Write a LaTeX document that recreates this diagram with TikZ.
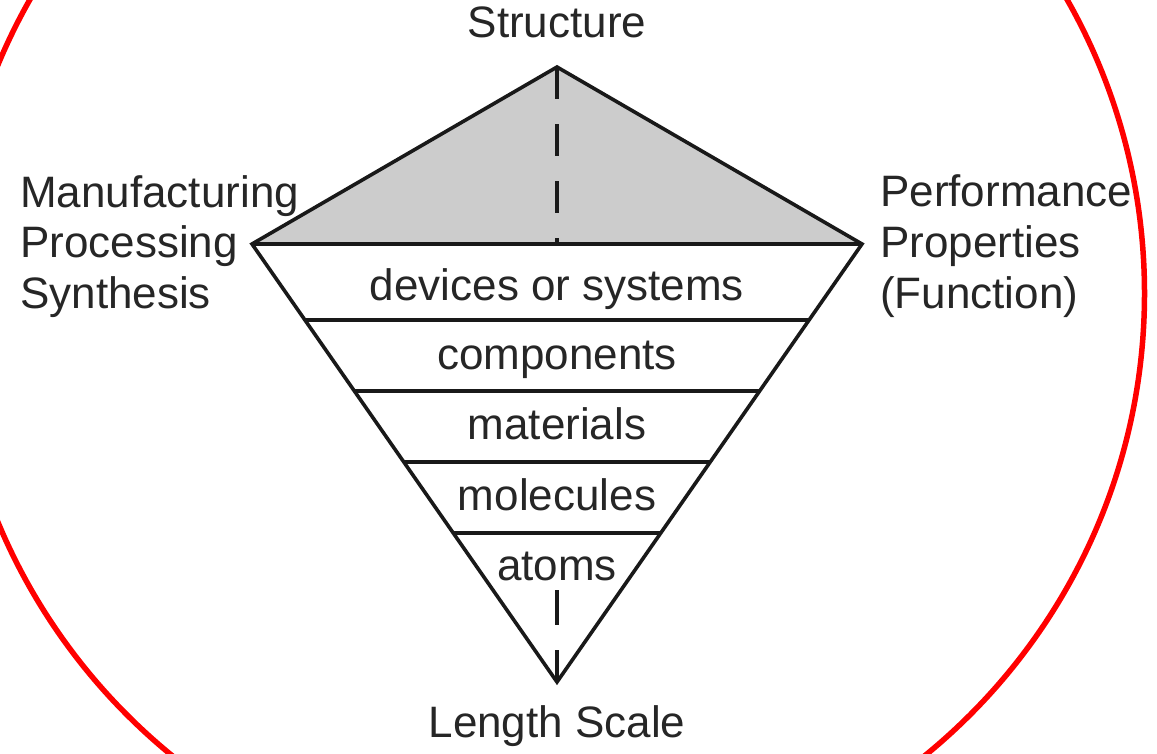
\documentclass[tikz,border=0pt]{standalone}
\usepackage{fontspec}
\setmainfont{Liberation Sans}
\begin{document}
\begin{tikzpicture}[x=1pt, y=-1pt, line join=miter,
    scaletext/.style={font=\fontsize{44}{50}\selectfont, inner sep=0pt, text=black!85},
    edge/.style={line width=3.6pt, black!90}]
    \useasboundingbox (0,0) rectangle (1157,753);

    % the corners of the diamond
    \coordinate (top) at (557,67);
    \coordinate (left) at (252,244);
    \coordinate (right) at (862,244);
    \coordinate (bottom) at (557,682);
    \coordinate (mid) at (557,244);

    % the grey upper triangle
    \fill[gray!40] (left) -- (top) -- (right) -- cycle;
    \draw[line width=3.4pt, black!90, dash pattern=on 32pt off 25pt] (top) -- (mid);

    % the levels (here I put coordinates on both edges to draw the lines between)
    \foreach \p [count=\i] in {0.1735,0.3356,0.4977,0.6598} {
        \path (left) -- (bottom) coordinate[pos=\p] (l\i);
        \path (right) -- (bottom) coordinate[pos=\p] (r\i);
        \draw[edge] (l\i) -- (r\i);
    }
    \draw[edge] (left) -- (right);
    \draw[edge] (left) -- (top) -- (right) -- (bottom) -- cycle;

    % the texts in the levels
    \node[scaletext, anchor=base] (dev) at (557,300) {devices or systems};
    \node[scaletext, anchor=base] (comp) at (557,369) {components};
    \node[scaletext, anchor=base] (mat) at (557,439) {materials};
    \node[scaletext, anchor=base] (mol) at (557,510) {molecules};
    \node[scaletext, anchor=base] (atoms) at (557,580) {atoms};
    \coordinate (belowatoms) at (557,590);
    \draw[line width=3.4pt, black!90, dash pattern=on 35pt off 25pt] (belowatoms) -- (bottom);

    % the texts round the diamond
    \node[scaletext, anchor=base] (struct) at (557,37) {Structure};
    \node[scaletext, anchor=base] (length) at (557,737) {Length Scale};
    \node[scaletext, anchor=base west] (manu) at (20,207) {Manufacturing};
    \node[scaletext, anchor=base west] (proc) at (20,257) {Processing};
    \node[scaletext, anchor=base west] (synth) at (20,308) {Synthesis};
    \node[scaletext, anchor=base west] (perf) at (880,206) {Performance};
    \node[scaletext, anchor=base west] (prop) at (880,257) {Properties};
    \node[scaletext, anchor=base west] (func) at (880,308) {(Function)};

    % the red circle
    \draw[red, line width=5.5pt] (548.5,293.5) circle (596);
\end{tikzpicture}
\end{document}
